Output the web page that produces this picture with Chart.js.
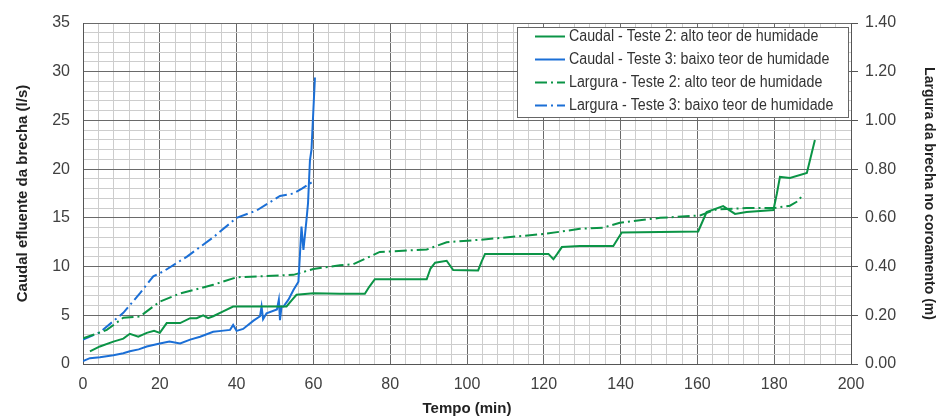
<!DOCTYPE html>
<html>
<head>
<meta charset="utf-8">
<script src="https://cdn.jsdelivr.net/npm/chart.js@4.4.1/dist/chart.umd.min.js"></script>
<style>
    html, body { margin: 0; padding: 0; background: #fff; }
</style>
</head>
<body>
<canvas id="myChart" width="941" height="419"></canvas>
<script>
// Caudal - Teste 2 (l/s)
const tCaudal2 = [1.8, 4.4, 7.9, 10.5, 12.2, 14.4, 16.6, 18.5, 20, 21.8, 25.3, 27.9, 29.6, 31.3, 32.6, 33.9, 36.5, 39.1, 42.6, 48, 53, 54.5, 55.6, 60, 66.9, 73.4, 74.5, 76, 89.5, 90.5, 91.7, 94.7, 96.4, 102.9, 103.8, 104.7, 121.2, 122.5, 123.5, 124.7, 129.4, 138.1, 139.2, 140.3, 160.2, 161.3, 162.4, 166.7, 169.8, 172.8, 179.8, 180.7, 181.5, 184.1, 188.5, 190.6];
const qCaudal2 = [1.3, 1.8, 2.3, 2.6, 3.1, 2.8, 3.2, 3.4, 3.2, 4.2, 4.2, 4.7, 4.7, 5.0, 4.7, 4.9, 5.4, 5.9, 5.9, 5.9, 5.9, 6.6, 7.1, 7.25, 7.2, 7.2, 7.9, 8.7, 8.7, 9.8, 10.4, 10.6, 9.65, 9.6, 10.5, 11.3, 11.3, 10.75, 11.3, 12.0, 12.1, 12.1, 12.8, 13.5, 13.6, 14.6, 15.6, 16.2, 15.4, 15.6, 15.8, 17.5, 19.2, 19.1, 19.6, 23.0];

// Caudal - Teste 3 (l/s)
const tCaudal3 = [0, 1.8, 4.4, 7.9, 10.5, 12.2, 14.5, 16.6, 20, 22.5, 25.3, 27.9, 30.5, 33.9, 36, 38.3, 39.1, 40, 41.7, 44.4, 46.1, 46.5, 46.9, 47.8, 50.5, 51.0, 51.3, 51.7, 52.2, 53.5, 54.8, 56.1, 56.6, 56.9, 57.4, 58.2, 58.6, 59.1, 59.5, 60.4];
const qCaudal3 = [0.3, 0.6, 0.7, 0.9, 1.1, 1.3, 1.5, 1.8, 2.1, 2.3, 2.1, 2.5, 2.8, 3.3, 3.4, 3.5, 4.0, 3.4, 3.6, 4.45, 4.9, 5.9, 4.6, 5.2, 5.6, 6.6, 4.5, 5.9, 5.9, 6.6, 7.6, 8.45, 12.0, 14.1, 11.7, 14.8, 16.5, 20.9, 22.0, 29.4];

// Largura - Teste 2 (m)
const tLargura2 = [0, 2.7, 6.2, 10.5, 14.8, 20, 25.3, 33.9, 40, 54.8, 60, 66.9, 70.4, 77.3, 89.5, 94.7, 103.4, 120.7, 129.4, 135.5, 139.8, 150.3, 160.7, 165, 172.8, 179.8, 184.1, 186.3, 187.6];
const wLargura2 = [0.105, 0.12, 0.14, 0.19, 0.195, 0.256, 0.29, 0.325, 0.356, 0.366, 0.39, 0.405, 0.41, 0.46, 0.47, 0.50, 0.51, 0.535, 0.555, 0.56, 0.58, 0.60, 0.61, 0.635, 0.64, 0.64, 0.65, 0.67, 0.70];

// Largura - Teste 3 (m)
const tLargura3 = [0, 4.4, 10.5, 14.8, 18.3, 20.9, 27, 33.9, 40, 45.2, 51.3, 54.8, 57, 60];
const wLargura3 = [0.10, 0.13, 0.21, 0.29, 0.36, 0.38, 0.44, 0.52, 0.60, 0.63, 0.69, 0.70, 0.72, 0.75];

const xTicks = [0, 20, 40, 60, 80, 100, 120, 140, 160, 180, 200];   // labelled x ticks
const yTicks = [0, 5, 10, 15, 20, 25, 30, 35];                      // labelled left ticks

const GREEN = '#0b9446';
const BLUE = '#1b6fd6';
const FONT = "'Liberation Sans', Arial, sans-serif";

function pts(xs, ys){
    return xs.map((x, i) => ({x: x, y: ys[i]}));
}

// legend drawn as a framed box inside the plot, like the original
const boxLegend = {
    id: 'boxLegend',
    afterDatasetsDraw(chart){
        const ctx = chart.ctx;
        const area = chart.chartArea;
        const x = area.right - 334, y = area.top + 4, w = 331, h = 90;
        ctx.save();
        ctx.fillStyle = '#fff';
        ctx.fillRect(x, y, w, h);
        ctx.strokeStyle = '#666';
        ctx.lineWidth = 1;
        ctx.strokeRect(x + 0.5, y + 0.5, w, h);
        chart.data.datasets.forEach((ds, i) => {
            const cy = y + 9.5 + i * 23;
            ctx.strokeStyle = ds.borderColor;
            ctx.lineWidth = 2;
            ctx.setLineDash(ds.borderDash || []);
            ctx.beginPath();
            ctx.moveTo(x + 18, cy);
            ctx.lineTo(x + 48, cy);
            ctx.stroke();
            ctx.setLineDash([]);
            // condensed text, the original uses a narrow face
            ctx.save();
            ctx.translate(x + 52, cy);
            ctx.scale(0.89, 1);
            ctx.fillStyle = '#333';
            ctx.font = '16px ' + FONT;
            ctx.textBaseline = 'middle';
            ctx.fillText(ds.label, 0, 0);
            ctx.restore();
        });
        ctx.restore();
    }
};

Chart.defaults.font.family = FONT;
Chart.defaults.color = '#404040';

const ctx = document.getElementById('myChart');
new Chart(ctx, {
    type: 'line',
    data: {
        datasets: [
            {
                label: 'Caudal - Teste 2: alto teor de humidade',
                data: pts(tCaudal2, qCaudal2),
                borderColor: GREEN,
                borderWidth: 2,
                pointRadius: 0,
                yAxisID: 'y'
            },
            {
                label: 'Caudal - Teste 3: baixo teor de humidade',
                data: pts(tCaudal3, qCaudal3),
                borderColor: BLUE,
                borderWidth: 2,
                pointRadius: 0,
                yAxisID: 'y'
            },
            {
                label: 'Largura - Teste 2: alto teor de humidade',
                data: pts(tLargura2, wLargura2),
                borderColor: GREEN,
                borderWidth: 2,
                borderDash: [12, 4, 2, 4],
                pointRadius: 0,
                yAxisID: 'y2'
            },
            {
                label: 'Largura - Teste 3: baixo teor de humidade',
                data: pts(tLargura3, wLargura3),
                borderColor: BLUE,
                borderWidth: 2,
                borderDash: [12, 4, 2, 4],
                pointRadius: 0,
                yAxisID: 'y2'
            }
        ]
    },
    options: {
        responsive: false,
        animation: false,
        layout: { padding: { top: 23, left: 0, right: 0, bottom: 0 } },
        scales: {
            x: {
                type: 'linear',
                min: 0,
                max: 200,
                afterFit: s => { s.height = 55; },
                border: { color: '#555' },
                grid: {
                    drawTicks: false,
                    color: c => xTicks.includes(c.tick.value) ? '#6a6a6a' : '#cdcdcd'
                },
                ticks: {
                    stepSize: 4,
                    autoSkip: false,
                    maxRotation: 0,
                    padding: 11,
                    font: { size: 16 },
                    callback: v => xTicks.includes(v) ? v : ''
                },
                title: {
                    display: true,
                    text: 'Tempo (min)',
                    font: { size: 15, weight: 'bold' },
                    color: '#222',
                    padding: { top: 0, bottom: 1 }
                }
            },
            y: {
                position: 'left',
                min: 0,
                max: 35,
                afterFit: s => { s.width = 83; },
                border: { color: '#555' },
                grid: {
                    drawTicks: false,
                    color: c => yTicks.includes(c.tick.value) ? '#6a6a6a' : '#cdcdcd'
                },
                ticks: {
                    stepSize: 1,
                    autoSkip: false,
                    padding: 13,
                    font: { size: 16 },
                    callback: v => yTicks.includes(v) ? v : ''
                },
                title: {
                    display: true,
                    text: 'Caudal efluente da brecha (l/s)',
                    font: { size: 15, weight: 'bold' },
                    color: '#222',
                    padding: { top: 14, bottom: 0 }
                }
            },
            y2: {
                position: 'right',
                min: 0,
                max: 1.4,
                afterFit: s => { s.width = 90; },
                border: { color: '#555' },
                grid: {
                    drawOnChartArea: false,
                    tickLength: 7,
                    color: '#555'
                },
                ticks: {
                    stepSize: 0.2,
                    padding: 7,
                    font: { size: 16 },
                    callback: v => v.toFixed(2)
                },
                title: {
                    display: true,
                    text: 'Largura da brecha no coroamento (m)',
                    font: { size: 14, weight: 'bold' },
                    color: '#222',
                    padding: { top: 4, bottom: 0 }
                }
            }
        },
        plugins: {
            legend: { display: false },
            tooltip: { enabled: false }
        }
    },
    plugins: [boxLegend]
});
</script>
</body>
</html>
